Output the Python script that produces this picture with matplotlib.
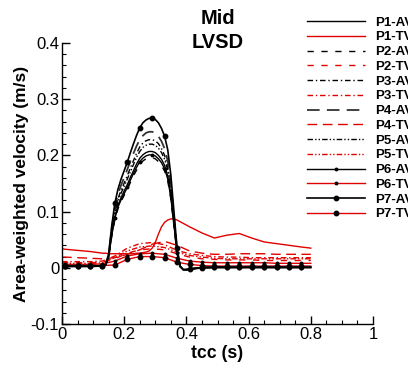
import numpy as np
import matplotlib
matplotlib.use("Agg")
import matplotlib.pyplot as plt
from matplotlib.ticker import MultipleLocator, FuncFormatter

plt.rcParams['font.family'] = ['Liberation Sans', 'DejaVu Sans']

# ---------------- data ----------------
t_av = [0.00, 0.01, 0.05, 0.09, 0.13, 0.14, 0.15, 0.16, 0.17, 0.18, 0.19, 0.20,
        0.21, 0.22, 0.23, 0.24, 0.25, 0.26, 0.27, 0.28, 0.29, 0.30, 0.31, 0.32,
        0.33, 0.34, 0.35, 0.36, 0.37, 0.38, 0.39, 0.40, 0.41, 0.45, 0.49, 0.53,
        0.57, 0.61, 0.65, 0.69, 0.73, 0.77, 0.80]

t_tv = [0.00, 0.01, 0.05, 0.09, 0.13, 0.17, 0.21, 0.25, 0.29, 0.33, 0.37, 0.41,
        0.45, 0.49, 0.53, 0.57, 0.61, 0.65, 0.69, 0.73, 0.77, 0.80]

p1_av = [0.003, 0.003, 0.003, 0.003, 0.004, 0.005, 0.020, 0.060, 0.091, 0.111, 0.125, 0.137,
         0.148, 0.161, 0.173, 0.185, 0.195, 0.201, 0.205, 0.207, 0.207, 0.205, 0.200, 0.193,
         0.182, 0.163, 0.129, 0.078, 0.027, 0.002, -0.003, -0.003, -0.002, 0.000, 0.001, 0.001,
         0.001, 0.001, 0.001, 0.001, 0.001, 0.001, 0.001]
p2_av = [0.004, 0.004, 0.004, 0.004, 0.004, 0.005, 0.018, 0.056, 0.086, 0.105, 0.118, 0.129,
         0.139, 0.152, 0.164, 0.174, 0.184, 0.190, 0.194, 0.196, 0.196, 0.194, 0.189, 0.182,
         0.172, 0.155, 0.122, 0.074, 0.026, 0.002, -0.002, -0.003, -0.002, 0.001, 0.002, 0.002,
         0.002, 0.002, 0.002, 0.002, 0.002, 0.002, 0.002]
p3_av = [0.003, 0.003, 0.003, 0.003, 0.004, 0.005, 0.021, 0.066, 0.101, 0.123, 0.138, 0.151,
         0.164, 0.178, 0.191, 0.204, 0.215, 0.222, 0.226, 0.228, 0.228, 0.226, 0.221, 0.212,
         0.200, 0.180, 0.142, 0.087, 0.030, 0.002, -0.003, -0.003, -0.002, 0.000, 0.001, 0.001,
         0.001, 0.001, 0.001, 0.001, 0.001, 0.001, 0.001]
p4_av = [0.004, 0.004, 0.004, 0.004, 0.004, 0.005, 0.022, 0.070, 0.108, 0.131, 0.147, 0.161,
         0.175, 0.190, 0.204, 0.217, 0.228, 0.235, 0.240, 0.242, 0.242, 0.240, 0.234, 0.225,
         0.212, 0.190, 0.150, 0.092, 0.032, 0.002, -0.003, -0.003, -0.002, 0.001, 0.002, 0.002,
         0.002, 0.002, 0.002, 0.002, 0.002, 0.002, 0.002]
p5_av = [0.003, 0.003, 0.003, 0.003, 0.004, 0.005, 0.021, 0.063, 0.097, 0.118, 0.133, 0.145,
         0.158, 0.171, 0.184, 0.197, 0.207, 0.214, 0.218, 0.220, 0.220, 0.218, 0.213, 0.205,
         0.193, 0.174, 0.137, 0.083, 0.029, 0.002, -0.003, -0.003, -0.002, 0.000, 0.001, 0.001,
         0.001, 0.001, 0.001, 0.001, 0.001, 0.001, 0.001]
p6_av = [0.002, 0.002, 0.002, 0.002, 0.003, 0.005, 0.019, 0.058, 0.088, 0.108, 0.121, 0.132,
         0.143, 0.156, 0.168, 0.179, 0.189, 0.195, 0.199, 0.201, 0.201, 0.199, 0.194, 0.187,
         0.176, 0.158, 0.125, 0.076, 0.026, 0.002, -0.003, -0.003, -0.002, 0.000, 0.000, 0.000,
         0.000, 0.000, 0.000, 0.000, 0.000, 0.000, 0.000]
p7_av = [0.003, 0.003, 0.003, 0.003, 0.004, 0.005, 0.025, 0.075, 0.115, 0.140, 0.158, 0.173,
         0.188, 0.205, 0.221, 0.236, 0.249, 0.258, 0.263, 0.266, 0.266, 0.264, 0.258, 0.248,
         0.234, 0.210, 0.165, 0.100, 0.035, 0.003, -0.004, -0.004, -0.003, 0.000, 0.001, 0.001,
         0.001, 0.001, 0.001, 0.001, 0.001, 0.001, 0.001]

p1_tv = [0.034, 0.033, 0.031, 0.029, 0.026, 0.026, 0.025, 0.025, 0.025, 0.025, 0.025, 0.025,
         0.025, 0.025, 0.025, 0.026, 0.026, 0.027, 0.028, 0.030, 0.035, 0.045, 0.060, 0.073,
         0.081, 0.085, 0.087, 0.087, 0.085, 0.082, 0.079, 0.076, 0.073, 0.062, 0.053, 0.058,
         0.061, 0.053, 0.046, 0.043, 0.040, 0.037, 0.035]
p2_tv = [0.009, 0.009, 0.009, 0.009, 0.010, 0.016, 0.026, 0.032, 0.034, 0.032, 0.025, 0.019,
         0.016, 0.015, 0.014, 0.014, 0.014, 0.013, 0.013, 0.013, 0.013, 0.013]
p3_tv = [0.011, 0.011, 0.011, 0.011, 0.012, 0.021, 0.035, 0.043, 0.045, 0.041, 0.031, 0.025,
         0.022, 0.020, 0.019, 0.019, 0.018, 0.018, 0.018, 0.018, 0.018, 0.018]
p4_tv = [0.019, 0.019, 0.018, 0.017, 0.016, 0.018, 0.024, 0.032, 0.042, 0.047, 0.040, 0.030,
         0.026, 0.024, 0.024, 0.025, 0.025, 0.025, 0.024, 0.024, 0.024, 0.024]
p5_tv = [0.008, 0.008, 0.008, 0.008, 0.009, 0.018, 0.030, 0.037, 0.039, 0.036, 0.028, 0.022,
         0.019, 0.017, 0.016, 0.016, 0.016, 0.016, 0.016, 0.016, 0.016, 0.016]
p6_tv = [0.006, 0.006, 0.006, 0.006, 0.007, 0.012, 0.021, 0.025, 0.026, 0.024, 0.017, 0.012,
         0.010, 0.009, 0.009, 0.009, 0.009, 0.009, 0.008, 0.008, 0.008, 0.008]
p7_tv = [0.003, 0.003, 0.003, 0.003, 0.004, 0.005, 0.015, 0.020, 0.020, 0.018, 0.010, 0.006,
         0.004, 0.003, 0.003, 0.003, 0.003, 0.003, 0.003, 0.003, 0.003, 0.003]

labels = ['P1-AV', 'P1-TV', 'P2-AV', 'P2-TV', 'P3-AV', 'P3-TV', 'P4-AV', 'P4-TV',
          'P5-AV', 'P5-TV', 'P6-AV', 'P6-TV', 'P7-AV', 'P7-TV']

# ---------------- figure ----------------
fig = plt.figure(figsize=(4.08, 3.68), dpi=100)
ax = fig.add_axes([62 / 408, 1 - 324 / 368, 311 / 408, 281 / 368])

RED = '#e00000'
BLK = 'black'
GRY = '#333333'


def marks(t):
    return [i for i, v in enumerate(t)
            if abs(((v - 0.01) / 0.04) - round((v - 0.01) / 0.04)) < 1e-6 and v < 0.795]


ls_dash = (0, (4.5, 5.5))
ls_dashdot = (0, (4.0, 2.0, 1.0, 2.0))
ls_long = (0, (7.0, 4.0))
ls_dashdotdot = (0, (4.0, 1.5, 1.0, 1.5, 1.0, 1.5))

series = [
    (t_av, p1_av, dict(color=BLK, ls='-', lw=1.0, zorder=3)),
    (t_av, p1_tv, dict(color=RED, ls='-', lw=1.0, zorder=2)),
    (t_av, p2_av, dict(color=BLK, ls=ls_dash, lw=1.0, zorder=3)),
    (t_tv, p2_tv, dict(color=RED, ls=ls_dash, lw=1.0, zorder=2)),
    (t_av, p3_av, dict(color=BLK, ls=ls_dashdot, lw=1.0, zorder=3)),
    (t_tv, p3_tv, dict(color=RED, ls=ls_dashdot, lw=1.0, zorder=2)),
    (t_av, p4_av, dict(color=GRY, ls=ls_long, lw=1.3, zorder=3)),
    (t_tv, p4_tv, dict(color=RED, ls=ls_long, lw=1.0, zorder=2)),
    (t_av, p5_av, dict(color=BLK, ls=ls_dashdotdot, lw=1.0, zorder=3)),
    (t_tv, p5_tv, dict(color=RED, ls=ls_dashdotdot, lw=1.0, zorder=2)),
    (t_av, p6_av, dict(color=BLK, ls='-', lw=1.0, marker='o', ms=1.8, mfc=BLK, mec=BLK,
                       markevery=marks(t_av), zorder=3)),
    (t_tv, p6_tv, dict(color=RED, ls='-', lw=1.0, marker='o', ms=1.8, mfc=BLK, mec=BLK,
                       markevery=marks(t_tv), zorder=2)),
    (t_av, p7_av, dict(color=BLK, ls='-', lw=1.2, marker='o', ms=3.2, mfc=BLK, mec=BLK,
                       markevery=marks(t_av), zorder=3)),
    (t_tv, p7_tv, dict(color=RED, ls='-', lw=1.0, marker='o', ms=3.2, mfc=BLK, mec=BLK,
                       markevery=marks(t_tv), zorder=2)),
]

for (tx, vy, kw), lab in zip(series, labels):
    ax.plot(tx, vy, label=lab, **kw)

ax.set_xlim(0, 1)
ax.set_ylim(-0.1, 0.4)
ax.xaxis.set_major_locator(MultipleLocator(0.2))
ax.xaxis.set_minor_locator(MultipleLocator(0.05))
ax.yaxis.set_major_locator(MultipleLocator(0.1))
ax.yaxis.set_minor_locator(MultipleLocator(0.02))
fmt = FuncFormatter(lambda v, p: '%g' % round(v, 3))
ax.xaxis.set_major_formatter(fmt)
ax.yaxis.set_major_formatter(fmt)

for s in ['top', 'right']:
    ax.spines[s].set_visible(False)
for s in ['left', 'bottom']:
    ax.spines[s].set_linewidth(1.0)
ax.tick_params(which='major', direction='in', length=6, width=1.0, labelsize=12, pad=2)
ax.tick_params(which='minor', direction='in', length=3, width=0.8)

ax.set_xlabel('tcc (s)', fontsize=12.7, fontweight='bold', labelpad=2)
ax.set_ylabel('Area-weighted velocity (m/s)', fontsize=12.5, fontweight='bold', labelpad=1)

fig.text(218 / 408, 1 - 18 / 368, 'Mid', ha='center', va='center', fontsize=14.5, fontweight='bold')
fig.text(218 / 408, 1 - 43 / 368, 'LVSD', ha='center', va='center', fontsize=14.5, fontweight='bold')

handles, labs = ax.get_legend_handles_labels()
leg = fig.legend(handles, labs, loc='upper left', bbox_to_anchor=(307 / 408, 1 - 16.5 / 368),
                 frameon=False, prop={'weight': 'bold', 'size': 9.5},
                 handlelength=4.4, handletextpad=0.75, labelspacing=0.19,
                 borderpad=0, borderaxespad=0, markerscale=1.0)

fig.savefig('out.png', dpi=100)
